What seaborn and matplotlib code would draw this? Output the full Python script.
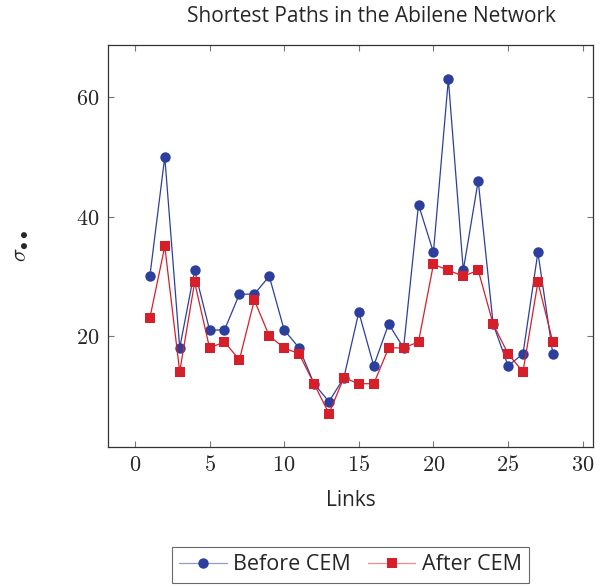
import matplotlib
matplotlib.use("Agg")
import matplotlib.pyplot as plt
import seaborn as sns
import pandas as pd
from matplotlib.ticker import FuncFormatter

links = list(range(1, 29))
before_cem = [30, 50, 18, 31, 21, 21, 27, 27, 30, 21, 18, 12, 9, 13, 24, 15, 22, 18, 42, 34, 63, 31, 46, 22, 15, 17, 34, 17]
after_cem = [23, 35, 14, 29, 18, 19, 16, 26, 20, 18, 17, 12, 7, 13, 12, 12, 18, 18, 19, 32, 31, 30, 31, 22, 17, 14, 29, 19]
x_ticks = [0, 5, 10, 15, 20, 25, 30]
y_ticks = [20, 40, 60]

sns.set_style("white")
plt.rcParams["mathtext.fontset"] = "cm"
plt.rcParams["font.family"] = ["Open Sans", "DejaVu Sans"]

df = pd.DataFrame({"Links": links * 2,
                   "value": before_cem + after_cem,
                   "series": ["Before CEM"] * len(links) + ["After CEM"] * len(links)})

fig = plt.figure(figsize=(6.14, 5.87), dpi=100)
ax = fig.add_axes([0.176, 0.2385, 0.79, 0.6845])

blue = "#2c3f9c"
red = "#d71f2a"
sns.lineplot(data=df[df.series == "Before CEM"], x="Links", y="value", ax=ax,
             color=blue, marker="o", markersize=7.5, markeredgewidth=0, linewidth=0.9,
             label="Before CEM")
sns.lineplot(data=df[df.series == "After CEM"], x="Links", y="value", ax=ax,
             color=red, marker="s", markersize=7.5, markeredgewidth=0, linewidth=0.9,
             label="After CEM")

ax.set_xlim(-1.8, 30.7)
ax.set_ylim(1.4, 68.7)
ax.set_xticks(x_ticks)
ax.set_yticks(y_ticks)
fmt = FuncFormatter(lambda v, p: r"$%d$" % v)
ax.xaxis.set_major_formatter(fmt)
ax.yaxis.set_major_formatter(fmt)
ax.tick_params(direction="in", length=4, width=0.8, color="#777777", labelsize=16,
               top=True, right=True, bottom=True, left=True, pad=6)
for s in ax.spines.values():
    s.set_color("#333333")
    s.set_linewidth(0.9)

ax.set_xlabel("Links", fontsize=15, labelpad=10)
ax.set_ylabel(r"$\sigma_{\bullet\bullet}$", fontsize=16, labelpad=33)
ax.set_title("Shortest Paths in the Abilene Network", fontsize=15, pad=17, x=0.542)

leg = ax.legend(loc="upper center", bbox_to_anchor=(0.5, -0.222), ncol=2, frameon=True,
                fancybox=False, edgecolor="#444444", fontsize=15.5, handlelength=2.2,
                columnspacing=0.8, handletextpad=0.3, borderpad=0.35)
leg.get_frame().set_linewidth(0.8)
for h, c, lc in zip(leg.get_lines(), [blue, red], ["#8f9ccc", "#f08a8f"]):
    h.set_color(lc)
    h.set_markerfacecolor(c)
    h.set_markeredgecolor(c)

fig.savefig("out.png", dpi=100)
